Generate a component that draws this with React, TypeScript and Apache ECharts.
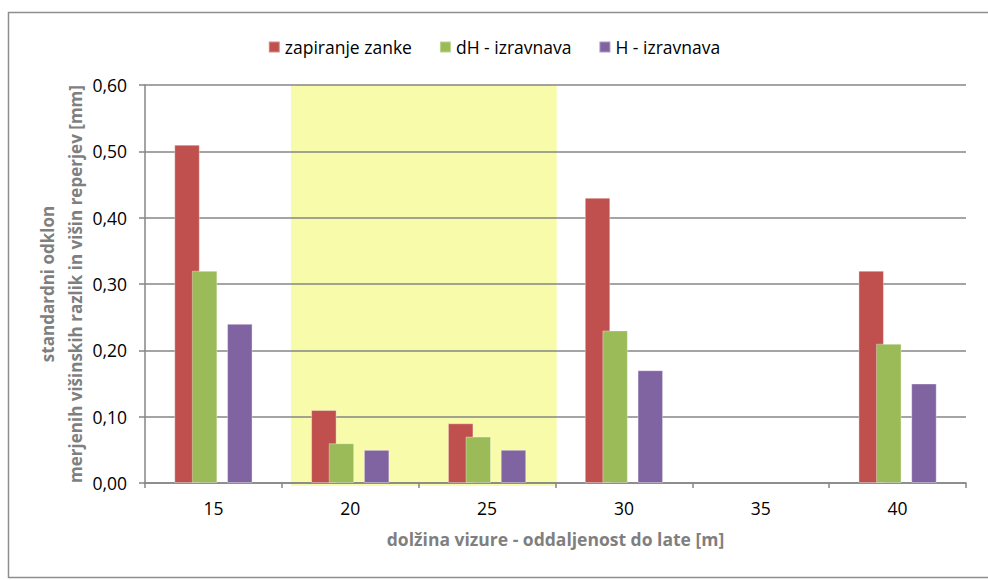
import React, { useEffect, useRef } from "react";
import * as echarts from "echarts";

const categories = ["15", "20", "25", "30", "35", "40"];
const zapiranjeZanke = [0.51, 0.11, 0.09, 0.43, null, 0.32];
const dHIzravnava = [0.32, 0.06, 0.07, 0.23, null, 0.21];
const spacerSeries = [null, null, null, null, null, null];
const HIzravnava = [0.24, 0.05, 0.05, 0.17, null, 0.15];
const seriesNames = ["zapiranje zanke", "dH - izravnava", "H - izravnava"];
const yTitleLines = ["standardni odklon", "merjenih višinskih razlik in višin reperjev [mm]"];

const FONT = "Open Sans";

export default function App() {
  const ref = useRef<HTMLDivElement>(null);
  useEffect(() => {
    document.body.style.margin = "0";
    const chart = echarts.init(ref.current!, null, { renderer: "svg" });
    const barCommon = {
      type: "bar",
      barWidth: 25.5,
      barGap: "-31%",
      itemStyle: { borderColor: "rgba(255,255,255,0.35)", borderWidth: 1 },
    };
    const titleStyle = {
      fill: "#7f7f7f",
      fontFamily: FONT,
      fontSize: 17,
      fontWeight: "bold",
      align: "center",
      verticalAlign: "middle",
    };
    chart.setOption({
      animation: false,
      backgroundColor: "#ffffff",
      textStyle: { fontFamily: FONT },
      grid: { left: 145, right: 22, top: 85, bottom: 97, containLabel: false },
      legend: {
        data: seriesNames,
        top: 33,
        left: "center",
        itemWidth: 11,
        itemHeight: 11,
        itemGap: 27,
        icon: "rect",
        textStyle: { fontFamily: FONT, fontSize: 17.5, color: "#000000" },
      },
      xAxis: {
        type: "category",
        data: categories,
        name: "dolžina vizure - oddaljenost do late [m]",
        nameLocation: "middle",
        nameGap: 47,
        nameTextStyle: { fontFamily: FONT, fontSize: 17.5, fontWeight: "bold", color: "#7f7f7f" },
        axisLine: { show: true, lineStyle: { color: "#868686", width: 1.5 } },
        axisTick: { show: true, length: 5, lineStyle: { color: "#868686", width: 1.5 } },
        axisLabel: { fontFamily: FONT, fontSize: 17.5, color: "#000000", margin: 16 },
        splitLine: { show: false },
      },
      yAxis: {
        type: "value",
        min: 0,
        max: 0.6,
        interval: 0.1,
        axisLine: { show: true, lineStyle: { color: "#868686", width: 1.5 } },
        axisTick: { show: true, length: 6, lineStyle: { color: "#868686", width: 1.5 } },
        axisLabel: {
          fontFamily: FONT,
          fontSize: 17.5,
          color: "#000000",
          margin: 18,
          formatter: (v: number) => v.toFixed(2).replace(".", ","),
        },
        splitLine: { show: true, lineStyle: { color: "#868686", width: 1.5 } },
      },
      graphic: [
        {
          type: "rect",
          z: -10,
          shape: { x: 291, y: 85, width: 265.7, height: 401 },
          style: { fill: "#f8fcaa" },
        },
        {
          type: "rect",
          z: -10,
          shape: { x: 8.5, y: 12.5, width: 1000, height: 565 },
          style: { fill: "none", stroke: "#8e8e8e", lineWidth: 1.5 },
        },
        {
          type: "text",
          x: 47,
          y: 284,
          rotation: Math.PI / 2,
          style: { ...titleStyle, text: yTitleLines[0] },
        },
        {
          type: "text",
          x: 75,
          y: 284,
          rotation: Math.PI / 2,
          style: { ...titleStyle, text: yTitleLines[1] },
        },
      ],
      series: [
        { ...barCommon, name: seriesNames[0], data: zapiranjeZanke, itemStyle: { ...barCommon.itemStyle, color: "#c0504d" } },
        { ...barCommon, name: seriesNames[1], data: dHIzravnava, itemStyle: { ...barCommon.itemStyle, color: "#9bbb59" } },
        { ...barCommon, name: "_spacer", data: spacerSeries, itemStyle: { color: "transparent" } },
        { ...barCommon, name: seriesNames[2], data: HIzravnava, itemStyle: { ...barCommon.itemStyle, color: "#8064a2" } },
      ],
    });
    return () => chart.dispose();
  }, []);
  return <div ref={ref} style={{ width: 988, height: 580 }} />;
}
